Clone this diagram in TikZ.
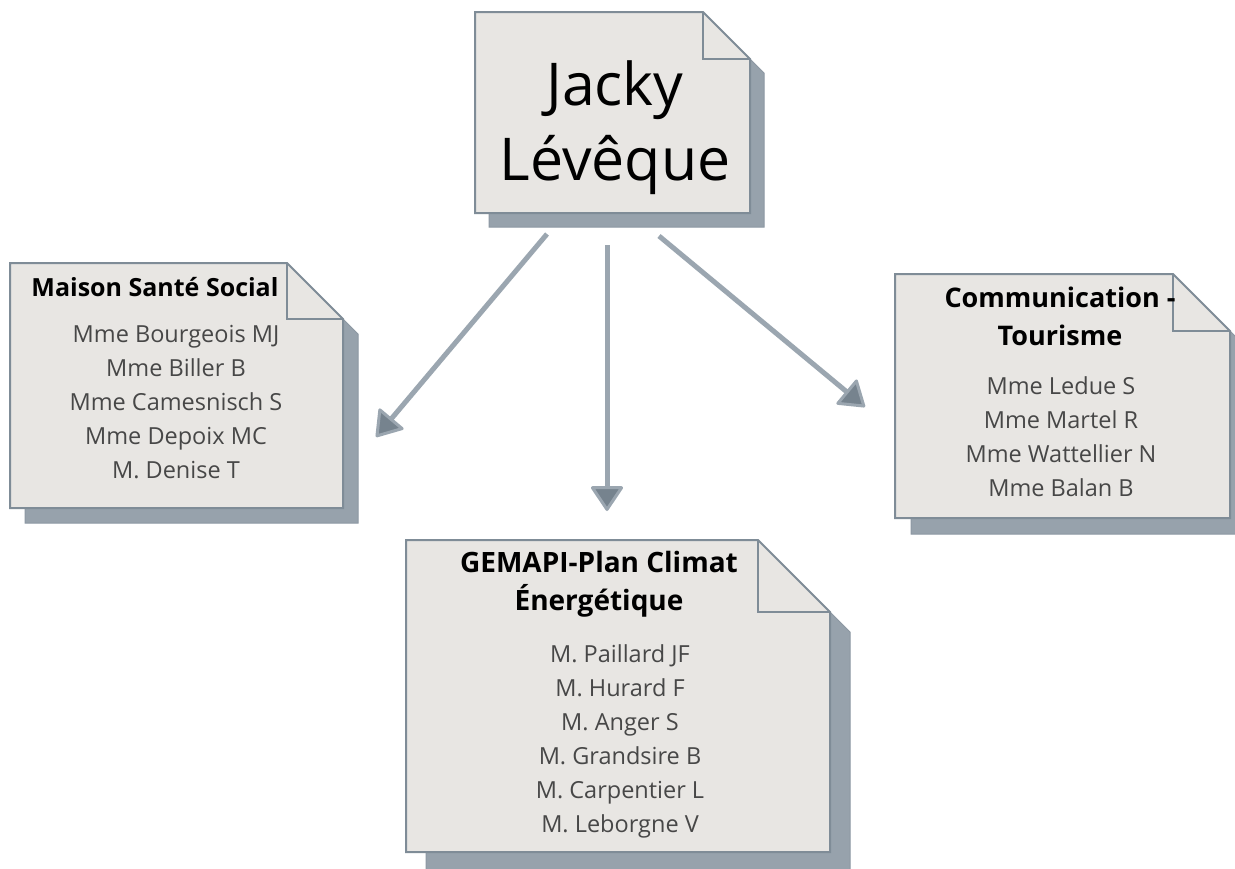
\documentclass[tikz,border=0pt]{standalone}
\usepackage{fontspec}
\setmainfont{Open Sans}
\usetikzlibrary{arrows.meta}
\definecolor{notefill}{HTML}{E8E6E3}
\definecolor{noteline}{HTML}{7F8C97}
\definecolor{noteshadow}{HTML}{97A2AC}
\definecolor{shadowline}{HTML}{8D98A3}
\definecolor{arrowline}{HTML}{9BA6B0}
\definecolor{arrowfill}{HTML}{76838E}
\definecolor{nametext}{HTML}{474747}
\tikzset{
  notestyle/.style={draw=noteline, fill=notefill, line width=2pt, line join=miter},
  shadowstyle/.style={fill=noteshadow, draw=shadowline, line width=1pt},
  linkarrow/.style={draw=arrowline, line width=5pt,
    -{Triangle[length=26pt, width=34pt, fill=arrowfill, line width=3pt, round]}},
  titletext/.style={inner sep=0pt, align=center, font=\bfseries\fontsize{25}{38}\selectfont, text=black},
  nametext/.style={inner sep=0pt, align=center, font=\fontsize{23.5}{34}\selectfont, text=nametext},
  bigtext/.style={inner sep=0pt, align=center, font=\fontsize{59}{75}\selectfont, text=black},
}
% #1 x1, #2 y1, #3 x2, #4 y2, #5 fold size, #6 shadow offset
\newcommand{\foldnote}[6]{%
  \path[shadowstyle] (#1+#6,#2+#6) -- (#3-#5+#6,#2+#6) -- (#3+#6,#2+#5+#6) -- (#3+#6,#4+#6) -- (#1+#6,#4+#6) -- cycle;
  \path[notestyle] (#1,#2) -- (#3-#5,#2) -- (#3,#2+#5) -- (#3,#4) -- (#1,#4) -- cycle;
  \draw[draw=noteline, line width=2pt] (#3-#5,#2) -- (#3-#5,#2+#5) -- (#3,#2+#5);
}
\begin{document}
\begin{tikzpicture}[x=1pt, y=-1pt]
\useasboundingbox (0,0) rectangle (1235,868);
\fill[white] (0,0) rectangle (1235,868);

% notes
\foldnote{475}{12}{750}{213}{47}{14}
\foldnote{10}{263}{343}{508}{56}{15}
\foldnote{895}{274}{1230}{518}{57}{16}
\foldnote{406}{540}{830}{852}{72}{20}

% texts
\node[bigtext] (chief) at (615,128) {Jacky\\Lévêque};

\node[titletext, anchor=base] (santeT) at (155,296.5) {Maison Santé Social};
\node[nametext] (santeN) at (176,402.5) {Mme Bourgeois MJ\\Mme Biller B\\Mme Camesnisch S\\Mme Depoix MC\\M. Denise T};

\node[titletext, font=\bfseries\fontsize{27}{38}\selectfont] (comT) at (1060,316) {Communication -\\Tourisme};
\node[nametext] (comN) at (1061,437) {Mme Ledue S\\Mme Martel R\\Mme Wattellier N\\Mme Balan B};

\node[titletext, font=\bfseries\fontsize{28}{38}\selectfont] (gemT) at (599,584) {GEMAPI-Plan Climat\\Énergétique};
\node[nametext] (gemN) at (620,741) {M. Paillard JF\\M. Hurard F\\M. Anger S\\M. Grandsire B\\M. Carpentier L\\M. Leborgne V};

% connectors
\coordinate (l0) at (547,234);
\coordinate (l1) at (376,437);
\coordinate (m0) at (607,245);
\coordinate (m1) at (607,511);
\coordinate (r0) at (659,236);
\coordinate (r1) at (865,407);
\draw[linkarrow] (l0) -- (l1);
\draw[linkarrow] (m0) -- (m1);
\draw[linkarrow] (r0) -- (r1);
\end{tikzpicture}
\end{document}
